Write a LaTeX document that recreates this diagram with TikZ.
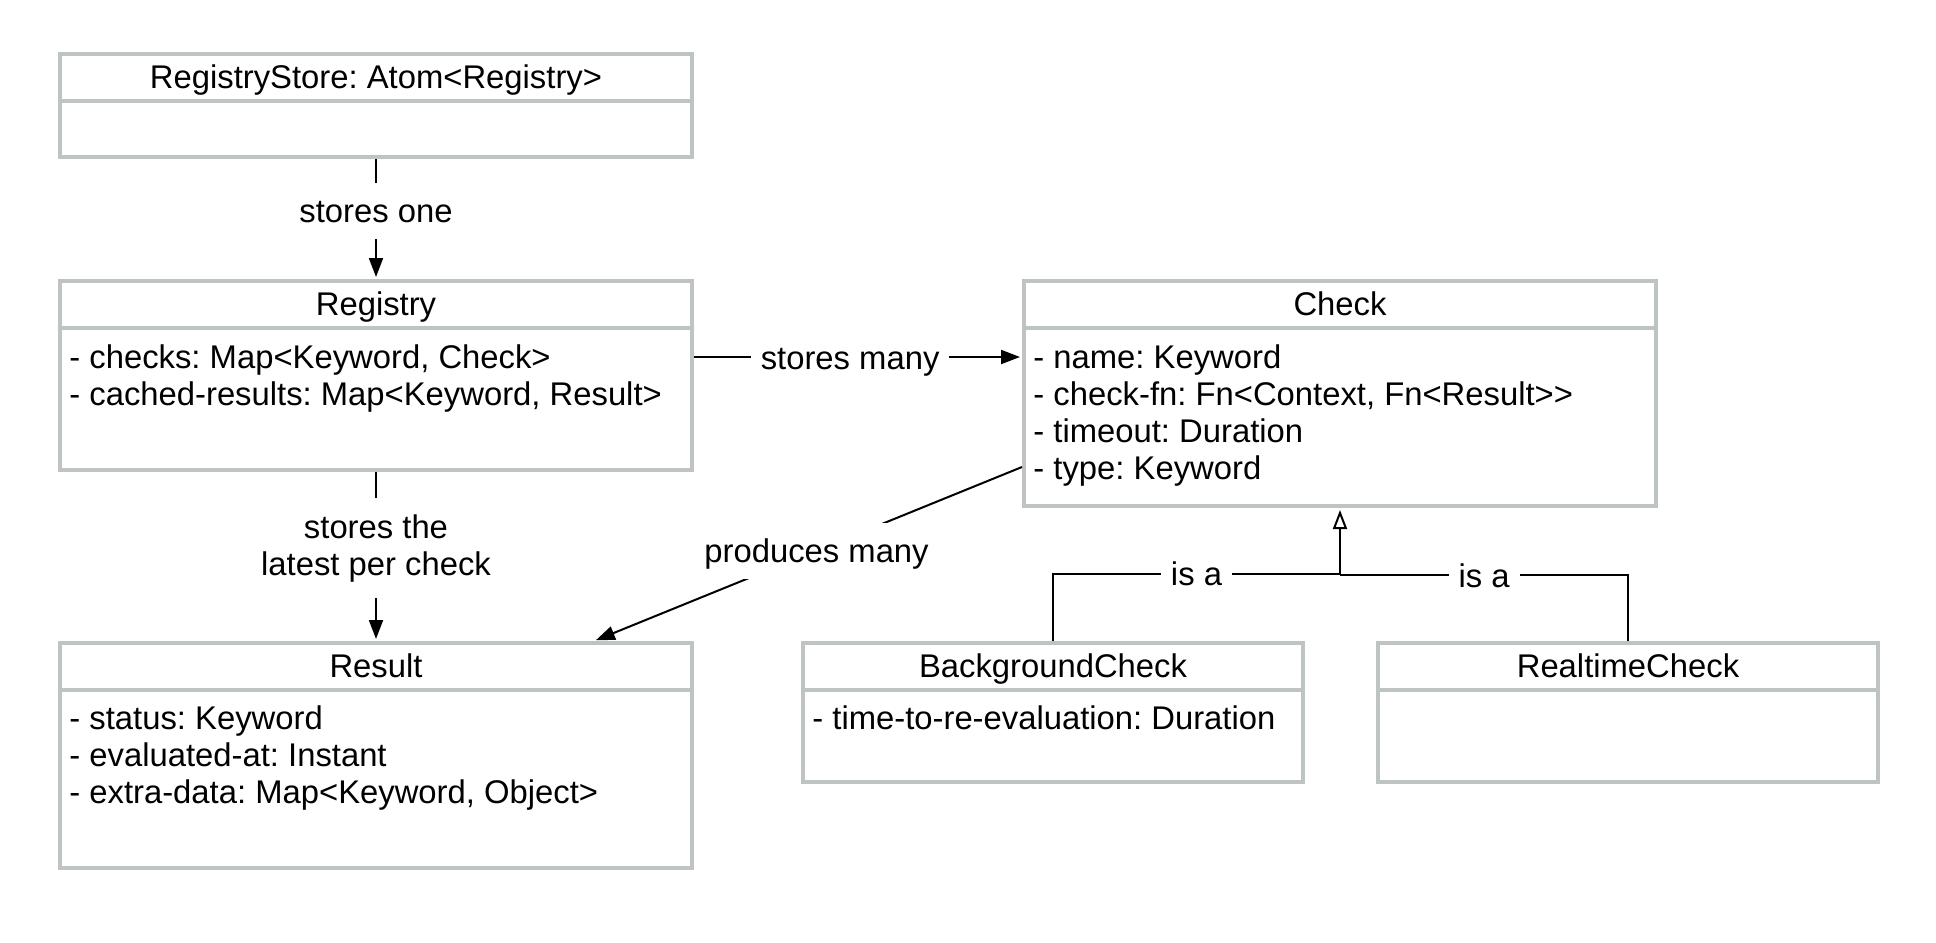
\documentclass[tikz,border=0pt]{standalone}
\usepackage{fontspec}
\setmainfont{Liberation Sans}
\usetikzlibrary{arrows.meta,fit,calc}
\definecolor{boxgray}{HTML}{BEC3C4}
\frenchspacing
\begin{document}
\begin{tikzpicture}[x=0.5pt,y=-0.5pt,
  box/.style={draw=boxgray,line width=2pt,inner sep=0pt,fill=white},
  divider/.style={draw=boxgray,line width=2pt},
  txt/.style={font=\fontsize{16.4pt}{18.5pt}\selectfont,inner sep=0pt},
  title/.style={txt,anchor=base},
  attr/.style={txt,anchor=base west},
  conn/.style={line width=1pt,draw=black},
  arr/.style={conn,shorten >=1pt,-{Triangle[length=9.5pt,width=7pt]}},
  inh/.style={conn,shorten >=1pt,-{Triangle[open,length=9.5pt,width=7pt,fill=white]}},
  lbl/.style={font=\fontsize{16.4pt}{18.5pt}\selectfont,fill=white,inner xsep=5pt,inner ysep=8pt,align=center},
  lbla/.style={lbl,text height=12pt,text depth=0pt}
]
\useasboundingbox (0,0) rectangle (1936,942);
\fill[white] (0,0) rectangle (1936,942);

% RegistryStore
\node[box,fit={(60,54) (692,157)}] (rs) {};
\draw[divider] (60,101) -- (692,101);
\node[title] (rsT) at (376,88.5) {RegistryStore: Atom<Registry>};

% Registry
\node[box,fit={(60,281) (692,470)}] (reg) {};
\draw[divider] (60,328) -- (692,328);
\node[title] (regT) at (376,315.5) {Registry};
\node[attr] (reg1) at (69,368) {- checks: Map<Keyword, Check>};
\node[attr] (reg2) at (69,405) {- cached-results: Map<Keyword, Result>};

% Result
\node[box,fit={(60,643) (692,868)}] (res) {};
\draw[divider] (60,690) -- (692,690);
\node[title] (resT) at (376,677.5) {Result};
\node[attr] (res1) at (69,729) {- status: Keyword};
\node[attr] (res2) at (69,766) {- evaluated-at: Instant};
\node[attr] (res3) at (69,803) {- extra-data: Map<Keyword, Object>};

% Check
\node[box,fit={(1024,281) (1656,506)}] (chk) {};
\draw[divider] (1024,328) -- (1656,328);
\node[title] (chkT) at (1340,315.5) {Check};
\node[attr] (chk1) at (1033,368) {- name: Keyword};
\node[attr] (chk2) at (1033,405) {- check-fn: Fn<Context, Fn<Result>{}>};
\node[attr] (chk3) at (1033,442) {- timeout: Duration};
\node[attr] (chk4) at (1033,479) {- type: Keyword};

% BackgroundCheck
\node[box,fit={(803,643) (1303,782)}] (bg) {};
\draw[divider] (803,690) -- (1303,690);
\node[title] (bgT) at (1053,677.5) {BackgroundCheck};
\node[attr] (bg1) at (812,729) {- time-to-re-evaluation: Duration};

% RealtimeCheck
\node[box,fit={(1378,643) (1878,782)}] (rt) {};
\draw[divider] (1378,690) -- (1878,690);
\node[title] (rtT) at (1628,677.5) {RealtimeCheck};

% connectors
\draw[arr] (rs.south) -- node[lbla,pos=0.43] {stores one} (reg.north);
\draw[arr] (reg.south) -- node[lbl,pos=0.43,yshift=-1.8pt] {stores the\\latest per check} (res.north);

\coordinate (sm) at (0,357);
\draw[arr] (reg.east |- sm) -- node[lbla,pos=0.476] {stores many} (chk.west |- sm);

\coordinate (pm) at (0,467);
\coordinate (pmx) at (594,0);
\draw[arr] (chk.west |- pm) -- node[lbla,pos=0.48] {produces many} (res.north -| pmx);

\coordinate (jl) at (1340,573.5);
\coordinate (jr) at (1340,575);
\draw[conn] (bg.north) |- node[lbla,pos=0.75] {is a} (jl);
\draw[conn] (rt.north) |- node[lbla,pos=0.75] {is a} (jr);
\draw[inh] (jr) -- (chk.south);
\end{tikzpicture}
\end{document}
